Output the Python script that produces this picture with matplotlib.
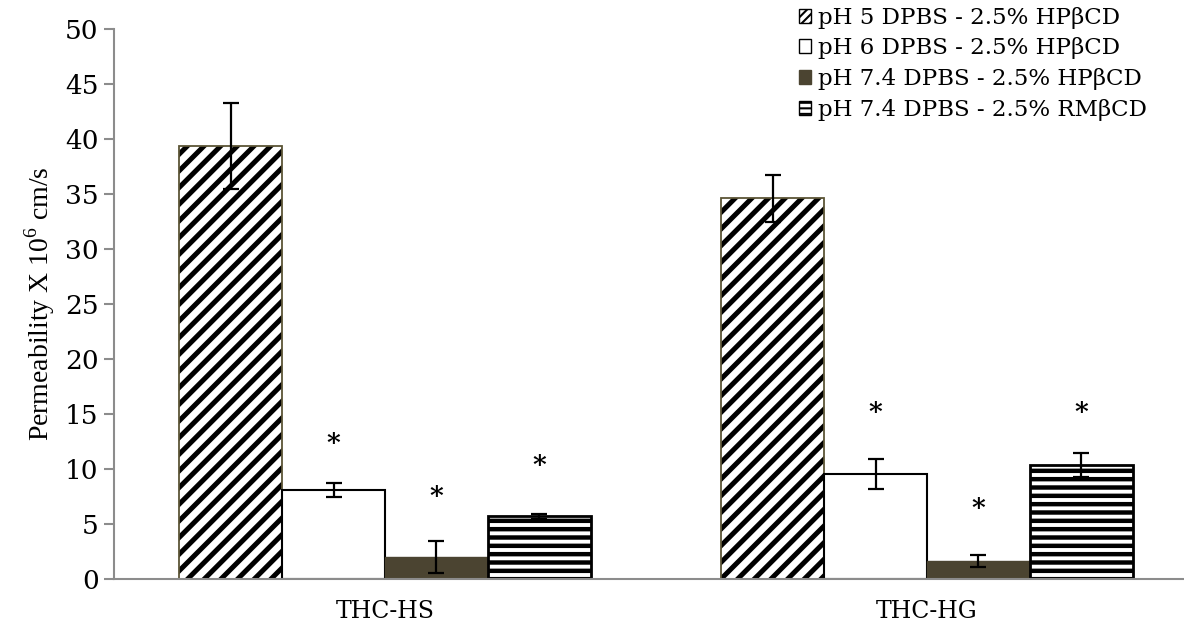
import numpy as np
import matplotlib.pyplot as plt
from matplotlib.patches import Patch

plt.rcParams['mathtext.fontset'] = 'custom'
plt.rcParams['mathtext.rm'] = 'Liberation Serif'

groups = ['THC-HS', 'THC-HG']
series = ['pH 5 DPBS - 2.5% HPβCD', 'pH 6 DPBS - 2.5% HPβCD',
          'pH 7.4 DPBS - 2.5% HPβCD', 'pH 7.4 DPBS - 2.5% RMβCD']
perm = [[39.4, 34.6],
        [8.1, 9.55],
        [2.0, 1.65],
        [5.7, 10.4]]
perm_err = [[3.9, 2.1],
            [0.65, 1.4],
            [1.45, 0.55],
            [0.25, 1.1]]
# height of the significance marks, NaN where none is drawn
star_y = [[np.nan, np.nan],
          [12.3, 15.1],
          [7.5, 6.4],
          [10.3, 15.1]]

olive = '#4b4431'
tick_font = 'DejaVu Serif'

fig = plt.figure(figsize=(11.84, 6.28), dpi=100)
ax = fig.add_axes([114/1184, 49/628, 1070/1184, 550/628])

x = np.arange(len(groups))
w = 0.19
offs = np.array([-1.5, -0.5, 0.5, 1.5]) * w

# bar 1: black diagonal stripes with a thin olive outline
plt.rcParams['hatch.linewidth'] = 3.6
ax.bar(x + offs[0], perm[0], w, color='white', edgecolor='black', hatch='//', lw=0)
ax.bar(x + offs[0], perm[0], w, fill=False, edgecolor='#5c5536', lw=1.3)
# bar 2: plain white
ax.bar(x + offs[1], perm[1], w, color='white', edgecolor='black', lw=1.5)
# bar 3: solid olive
ax.bar(x + offs[2], perm[2], w, color=olive, edgecolor=olive, lw=1)
# bar 4: horizontal stripes
plt.rcParams['hatch.linewidth'] = 3.2
ax.bar(x + offs[3], perm[3], w, color='white', edgecolor='black', hatch='--', lw=0)
ax.bar(x + offs[3], perm[3], w, fill=False, edgecolor='black', lw=2)

for i in range(4):
    ax.errorbar(x + offs[i], perm[i], yerr=perm_err[i], fmt='none', ecolor='black',
                elinewidth=1.6, capsize=6, capthick=1.6, zorder=5)
    for j in range(len(groups)):
        if not np.isnan(star_y[i][j]):
            ax.text(x[j] + offs[i], star_y[i][j], '*', ha='center', va='center',
                    fontsize=19, fontweight='bold', family=tick_font)

ax.set_xlim(-0.5, -0.5 + 1070/542)
ax.set_ylim(0, 50)
ax.set_yticks(np.arange(0, 51, 5))
ax.set_xticks(x)
ax.set_xticklabels(groups, family=tick_font, fontsize=17)
ax.tick_params(axis='x', length=0, pad=15)
ax.tick_params(axis='y', length=7, width=1.5, color='#8c8c8c', labelsize=19, pad=4)
for lab in ax.get_yticklabels():
    lab.set_family(tick_font)
for s in ['top', 'right']:
    ax.spines[s].set_visible(False)
for s in ['left', 'bottom']:
    ax.spines[s].set_color('#8c8c8c')
    ax.spines[s].set_linewidth(1.5)

ax.set_ylabel(r'Permeability X 10$^{6}$ cm/s', family='Liberation Serif', fontsize=20, labelpad=6)

plt.rcParams['hatch.linewidth'] = 1.5
handles = [Patch(facecolor='white', edgecolor='black', hatch='////', lw=1),
           Patch(facecolor='white', edgecolor='black', lw=1),
           Patch(facecolor=olive, edgecolor=olive),
           Patch(facecolor='white', edgecolor='black', hatch='---', lw=1)]
ax.legend(handles, series, loc='upper right', bbox_to_anchor=(0.985, 1.078),
          frameon=False, prop={'family': tick_font, 'size': 16.5},
          handlelength=0.55, handleheight=0.55, handletextpad=0.3, labelspacing=0.38)

fig.savefig('out.png', dpi=100)
